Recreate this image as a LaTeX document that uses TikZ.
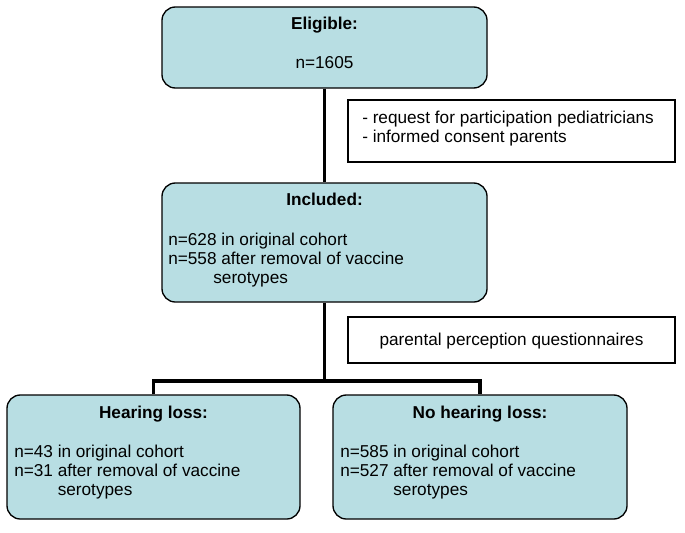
\documentclass[tikz,border=0pt]{standalone}
\usepackage{fontspec}
\setmainfont{Liberation Sans}
\usepackage{tikz}
\usetikzlibrary{positioning, calc}
\definecolor{boxblue}{RGB}{184,222,227}

\begin{document}
\begin{tikzpicture}[x=0.75pt,y=-0.75pt,
    flowbox/.style={rectangle,draw=black,fill=boxblue,line width=1pt,rounded corners=10pt,inner sep=0pt},
    sidebox/.style={rectangle,draw=black,line width=0.8pt,inner sep=0pt,minimum width=245.25pt},
    conn/.style={line width=2.4pt},
    txt/.style={font=\fontsize{12.9}{14.5}\selectfont,inner sep=0pt}]
    \useasboundingbox (0,0) rectangle (685,532);

    % Eligible
    \node[flowbox,minimum width=243.75pt,minimum height=60.75pt] (elig) at (324.5,47.5) {};
    \node[txt,anchor=base] (eligtitle) at (324.5,29.3) {\textbf{Eligible:}};
    \node[txt,anchor=base] (elign) at (324.5,68.3) {n=1605};

    % Included
    \node[flowbox,minimum width=243.75pt,minimum height=89.25pt] (incl) at (324.5,242.5) {};
    \node[txt,anchor=base] (incltitle) at (324.5,205.7) {\textbf{Included:}};
    \node[txt,anchor=base west] (incln) at (168,245) {\begin{tabular}[t]{@{}l@{\ }l@{}}
        n=628 & in original cohort\\
        n=558 & after removal of vaccine\\
        & \hspace*{-6pt}serotypes
    \end{tabular}};

    % Hearing loss / no hearing loss
    \node[flowbox,minimum width=219.75pt,minimum height=93pt] (hl) at (153.5,457) {};
    \node[txt,anchor=base] (hltitle) at (153.5,418) {\textbf{Hearing loss:}};
    \node[txt,anchor=base west] (hln) at (14,457) {\begin{tabular}[t]{@{}l@{\ }l@{}}
        n=43 & in original cohort\\
        n=31 & after removal of vaccine\\
        & serotypes
    \end{tabular}};

    \node[flowbox,minimum width=220.5pt,minimum height=93pt] (nohl) at (480,457) {};
    \node[txt,anchor=base] (nohltitle) at (480,418) {\textbf{No hearing loss:}};
    \node[txt,anchor=base west] (nohln) at (340,457) {\begin{tabular}[t]{@{}l@{\ }l@{}}
        n=585 & in original cohort\\
        n=527 & after removal of vaccine\\
        & serotypes
    \end{tabular}};

    % Side notes
    \node[sidebox,minimum height=46.5pt] (req) at (511.5,131) {};
    \node[txt,anchor=base west] (reqtext) at (362,123.3) {\begin{tabular}[t]{@{}l@{}}
        - request for participation pediatricians\\
        - informed consent parents
    \end{tabular}};
    \node[sidebox,minimum height=34.5pt] (quest) at (511.5,340) {};
    \node[txt,anchor=base] (questtext) at (511.5,345) {parental perception questionnaires};

    % Connectors
    \coordinate (split) at (324.5,381);
    \draw[conn] (elig) -- (incl);
    \draw[conn] (incl) -- (split);
    \draw[conn] (hl.north) |- (split) -| (nohl.north);
\end{tikzpicture}
\end{document}
